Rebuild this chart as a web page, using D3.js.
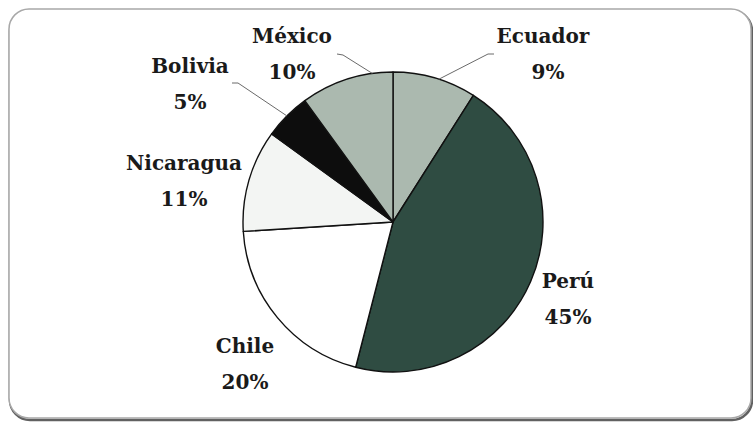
<!DOCTYPE html>
<html>
<head>
<meta charset="utf-8">
<script src="https://cdn.jsdelivr.net/npm/d3@7"></script>
<style>
  html, body { margin: 0; padding: 0; background: #ffffff; }
  svg { display: block; }
</style>
</head>
<body>
<svg id="chart" width="753" height="423"></svg>
<script>
// Share by country, clockwise from 12 o'clock
const countries = ["Ecuador", "Perú", "Chile", "Nicaragua", "Bolivia", "México"];
const shares = [9, 45, 20, 11, 5, 10];
const sliceColors = ["#abb9af", "#2f4c42", "#ffffff", "#f3f5f3", "#0d0d0d", "#abb9af"];
// Label anchor points (centre of the two-line label)
const labelX = [543, 568, 245, 184, 190, 292];
const labelY = [43, 288, 353, 170, 73, 43];

const W = 753, H = 423;
const cx = 393, cy = 222, R = 150;
const svg = d3.select("#chart");

// Frame: rounded border with a soft darker edge bottom-right
svg.append("rect")
  .attr("x", 10).attr("y", 11).attr("width", 742).attr("height", 409)
  .attr("rx", 20).attr("ry", 20)
  .attr("fill", "none").attr("stroke", "#3a3a3a").attr("stroke-width", 2.5)
  .attr("opacity", 0.8);
svg.append("rect")
  .attr("x", 9).attr("y", 9).attr("width", 742).attr("height", 409)
  .attr("rx", 20).attr("ry", 20)
  .attr("fill", "#ffffff").attr("stroke", "#a8a8a8").attr("stroke-width", 1.5);

const pie = d3.pie().sort(null).value(d => d)(shares);
const arc = d3.arc().innerRadius(0).outerRadius(R);

const g = svg.append("g").attr("transform", `translate(${cx},${cy})`);
g.selectAll("path.slice")
  .data(pie)
  .join("path")
  .attr("class", "slice")
  .attr("d", arc)
  .attr("fill", (d, i) => sliceColors[i])
  .attr("stroke", "#111")
  .attr("stroke-width", 1.4)
  .attr("stroke-linejoin", "round");

// Leader lines for the small top slices
function edgePoint(i, frac) {
  const d = pie[i];
  const a = d.startAngle + (d.endAngle - d.startAngle) * frac;
  return [cx + R * Math.sin(a), cy - R * Math.cos(a)];
}
const leaders = [
  { i: 0, frac: 0.55, pts: p => [p, [488, 54], [494, 54]] },
  { i: 5, frac: 0.78, pts: p => [p, [343, 55], [337, 54]] },
  { i: 4, frac: 0.5,  pts: p => [p, [238, 83], [232, 83]] }
];
leaders.forEach(l => {
  const p = edgePoint(l.i, l.frac);
  svg.append("path")
    .attr("d", d3.line()(l.pts(p)))
    .attr("fill", "none").attr("stroke", "#6a6a6a").attr("stroke-width", 1);
});

// Labels: name on the first line, percentage below
countries.forEach((c, i) => {
  const t = svg.append("text")
    .attr("font-family", "'DejaVu Serif', 'Liberation Serif', serif")
    .attr("font-weight", "bold")
    .attr("font-size", 20)
    .attr("fill", "#1a1a1a")
    .attr("text-anchor", "middle");
  t.append("tspan").attr("x", labelX[i]).attr("y", labelY[i]).text(c);
  t.append("tspan").attr("x", labelX[i] + (i === 0 ? 5 : 0)).attr("y", labelY[i] + 36).text(shares[i] + "%");
});
</script>
</body>
</html>
